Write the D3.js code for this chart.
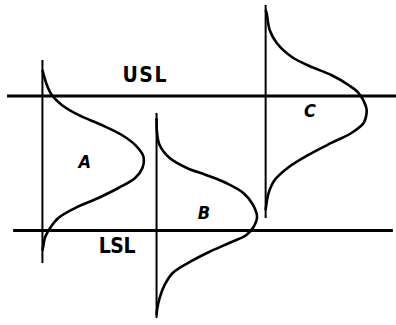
<!DOCTYPE html>
<html>
<head>
<meta charset="utf-8">
<script src="https://cdn.jsdelivr.net/npm/d3@7"></script>
<style>
  html, body { margin: 0; padding: 0; background: #fff; }
  svg { display: block; }
</style>
</head>
<body>
<div id="graph"></div>
<script>
// --- --- --- --- --- --- --- --- --- --- ---
// Data
// measurement: LSL = 0, USL = 10 ; density: fraction of peak height

let processes = ["A", "B", "C"];
let process_base = [0.42, 1.55, 2.63];        // where each density axis sits
let axis_top = [12.68, 8.74, 16.77];          // extent of each vertical axis
let axis_bottom = [-2.42, -6.51, 0.93];
let label_value = [5.0, 1.2, 8.8];            // measurement level of each letter
let label_density = [0.42, 0.47, 0.44];

let spec_names = ["USL", "LSL"];
let spec_values = [10, 0];
let spec_from = [0.07, 0.13];
let spec_to = [3.93, 3.89];

let curve_A_value = [11.93, 10.82, 10.07, 9.33, 8.59, 7.84, 7.10, 6.36, 5.49, 4.65, 3.90, 3.16, 2.42, 1.67, 0.93, 0.19, -0.48, -1.23, -1.50];
let curve_A_density = [0, 0.044, 0.093, 0.192, 0.356, 0.588, 0.786, 0.918, 1.0, 0.99, 0.918, 0.752, 0.554, 0.324, 0.158, 0.076, 0.027, 0.007, 0];

let curve_B_value = [8.36, 7.25, 6.36, 5.39, 4.65, 4.13, 3.53, 2.79, 1.90, 1.00, 0.26, -0.33, -0.93, -1.60, -2.34, -3.16, -4.05, -5.02, -5.91, -6.30];
let curve_B_density = [0, 0.005, 0.03, 0.13, 0.30, 0.49, 0.69, 0.86, 0.955, 0.995, 0.96, 0.89, 0.72, 0.52, 0.33, 0.16, 0.08, 0.03, 0.005, 0];

let curve_C_value = [16.39, 16.17, 14.91, 13.94, 12.90, 12.16, 11.56, 10.82, 10.22, 9.18, 8.74, 7.99, 7.25, 6.51, 5.61, 4.72, 3.75, 2.79, 1.52];
let curve_C_density = [0, 0.01, 0.04, 0.11, 0.26, 0.455, 0.65, 0.82, 0.92, 0.995, 1.0, 0.97, 0.85, 0.65, 0.42, 0.23, 0.09, 0.03, 0];

// --- --- --- --- --- --- --- --- --- --- ---

let width = 396;
let height = 325;

let curves = [
  d3.zip(curve_A_value, curve_A_density),
  d3.zip(curve_B_value, curve_B_density),
  d3.zip(curve_C_value, curve_C_density)
];

let svg = d3.select("#graph")
    .append("svg")
    .attr("width", width)
    .attr("height", height);

let x = d3.scaleLinear()
    .domain([0, 4])
    .range([0, 404]);

let y = d3.scaleLinear()
    .domain([0, 10])
    .range([230.5, 96]);

// spec limit lines
svg.selectAll(".spec")
    .data(spec_names)
    .enter()
    .append("line")
    .attr("class", "spec")
    .attr("x1", (d, i) => x(spec_from[i]))
    .attr("x2", (d, i) => x(spec_to[i]))
    .attr("y1", (d, i) => y(spec_values[i]))
    .attr("y2", (d, i) => y(spec_values[i]))
    .attr("stroke", "#000")
    .attr("stroke-width", 3);

// vertical axis for each process
svg.selectAll(".axis")
    .data(processes)
    .enter()
    .append("line")
    .attr("class", "axis")
    .attr("x1", (d, i) => x(process_base[i]))
    .attr("x2", (d, i) => x(process_base[i]))
    .attr("y1", (d, i) => y(axis_top[i]))
    .attr("y2", (d, i) => y(axis_bottom[i]))
    .attr("stroke", "#000")
    .attr("stroke-width", 2);

// distribution curves, lying on their side
svg.selectAll(".dist")
    .data(curves)
    .enter()
    .append("path")
    .attr("class", "dist")
    .attr("fill", "none")
    .attr("stroke", "#000")
    .attr("stroke-width", 2.6)
    .attr("stroke-linejoin", "round")
    .attr("d", (d, i) => d3.line()
        .x(p => x(process_base[i] + p[1]))
        .y(p => y(p[0]))
        .curve(d3.curveCatmullRom)(d));

// letters A B C
svg.selectAll(".proc_label")
    .data(processes)
    .enter()
    .append("text")
    .attr("class", "proc_label")
    .attr("x", (d, i) => x(process_base[i] + label_density[i]))
    .attr("y", (d, i) => y(label_value[i]))
    .attr("text-anchor", "middle")
    .attr("dominant-baseline", "middle")
    .style("font-family", "'Liberation Sans Narrow', 'DejaVu Sans Condensed', sans-serif")
    .style("font-weight", "bold")
    .style("font-style", "italic")
    .style("font-size", "18px")
    .text(d => d);

// USL / LSL text
let spec_text_x = [1.43, 1.16];
let spec_text_dy = [-14, 22];
svg.selectAll(".spec_label")
    .data(spec_names)
    .enter()
    .append("text")
    .attr("class", "spec_label")
    .attr("x", (d, i) => x(spec_text_x[i]))
    .attr("y", (d, i) => y(spec_values[i]) + spec_text_dy[i])
    .attr("text-anchor", "middle")
    .attr("textLength", (d, i) => i == 0 ? 44 : 37)
    .attr("lengthAdjust", "spacing")
    .style("font-family", "'Liberation Sans Narrow', 'DejaVu Sans Condensed', sans-serif")
    .style("font-weight", "bold")
    .style("font-size", "21px")
    .text(d => d);
</script>
</body>
</html>
